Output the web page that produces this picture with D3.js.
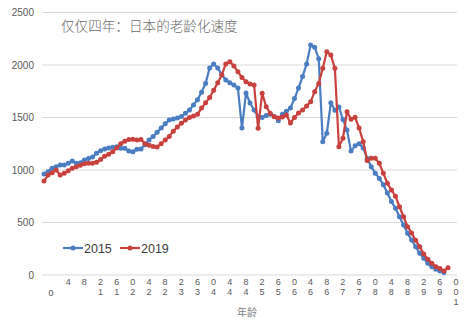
<!DOCTYPE html>
<html><head><meta charset="utf-8">
<script src="https://cdn.jsdelivr.net/npm/d3@7"></script>
<style>
html,body{margin:0;padding:0;background:#fff;}
svg{display:block;}
</style></head>
<body>
<svg id="chart" width="465" height="326"></svg>
<script>
const ages2015 = d3.range(0, 100);
const ages2019 = d3.range(0, 101);
const pop2015 = [962,984,1016,1031,1048,1048,1064,1086,1064,1070,
  1095,1110,1125,1159,1184,1200,1210,1216,1222,1206,
  1206,1180,1175,1197,1200,1240,1286,1320,1360,1400,
  1440,1476,1485,1495,1510,1540,1571,1620,1670,1740,
  1825,1971,2010,1971,1910,1857,1830,1810,1780,1400,
  1733,1638,1571,1510,1500,1520,1530,1510,1470,1530,
  1560,1590,1680,1780,1890,2010,2190,2170,2060,1270,
  1350,1640,1570,1600,1480,1380,1180,1230,1250,1210,
  1110,1030,970,920,860,780,700,635,555,476,
  397,333,270,206,159,111,79,54,38,25];
const pop2019 = [895,952,975,1000,952,968,994,1016,1030,1045,
  1060,1064,1064,1075,1100,1130,1150,1175,1210,1250,
  1275,1290,1292,1285,1290,1250,1235,1225,1220,1250,
  1286,1320,1370,1410,1445,1476,1500,1515,1530,1590,
  1640,1690,1760,1830,1905,2010,2032,1990,1936,1880,
  1841,1820,1810,1397,1730,1603,1540,1508,1495,1505,
  1524,1448,1500,1543,1571,1610,1651,1746,1825,1968,
  2127,2095,1968,1222,1302,1555,1483,1502,1400,1270,
  1090,1111,1111,1064,968,873,810,750,650,555,
  460,400,330,270,200,150,111,79,63,38,70];
const yTicks = [0,500,1000,1500,2000,2500];
const xTickAges = d3.range(0, 101, 4);
const seriesNames = ["2015","2019"];
const colors = ["#4a7dc1","#c9413e"];
const titleText = "仅仅四年：日本的老龄化速度";
const xAxisTitle = "年龄";

const svg = d3.select("#chart");
const x = d3.scaleLinear().domain([0,100]).range([44,448]);
const y = d3.scaleLinear().domain([0,2500]).range([275,12.5]);

// gridlines
svg.append("g").selectAll("line").data(yTicks).join("line")
  .attr("x1",42).attr("x2",457)
  .attr("y1",d=>y(d)).attr("y2",d=>y(d))
  .attr("stroke","#d9d9d9").attr("stroke-width",1);

// y labels
svg.append("g").selectAll("text").data(yTicks).join("text")
  .attr("x",34).attr("y",d=>y(d)+3.5)
  .attr("text-anchor","end")
  .attr("font-family","Liberation Sans, Arial, sans-serif")
  .attr("font-size",10).attr("fill","#595959")
  .text(d=>d);

// x labels: stacked chars, reversed, one text element per label
const xl = svg.append("g").attr("font-family","Liberation Sans, Arial, sans-serif")
  .attr("font-size",9).attr("fill","#595959").attr("text-anchor","middle");
xTickAges.forEach(a=>{
  const cx = x(a)+8;
  if (a===0){
    xl.append("text").attr("x",cx-1).attr("y",296).text("0");
    return;
  }
  const chars = String(a).split("").reverse();
  const t = xl.append("text").attr("x",cx).attr("y",285);
  chars.forEach((c,i)=>{
    t.append("tspan").attr("x",cx).attr("y",285+i*10).text(c);
  });
});

// x axis title
svg.append("text").attr("x",247).attr("y",316).attr("text-anchor","middle")
  .attr("font-family","Noto Sans CJK SC, sans-serif").attr("font-size",10)
  .attr("fill","#7f7f7f").text(xAxisTitle);

// title
svg.append("text").attr("x",61).attr("y",31)
  .attr("font-family","Noto Sans CJK SC, sans-serif").attr("font-weight",300)
  .attr("font-size",13.6).attr("fill","#6b6b6b").text(titleText);

const line = d3.line().x(d=>x(d[0])).y(d=>y(d[1]));
const seriesData = [
  d3.zip(ages2015, pop2015),
  d3.zip(ages2019, pop2019)
];
seriesData.forEach((data,i)=>{
  const g = svg.append("g");
  g.append("path").datum(data).attr("d",line)
    .attr("fill","none").attr("stroke",colors[i]).attr("stroke-width",2.2)
    .attr("stroke-linejoin","round");
  g.selectAll("circle").data(data).join("circle")
    .attr("cx",d=>x(d[0])).attr("cy",d=>y(d[1])).attr("r",2.5)
    .attr("fill",colors[i]);
});

// legend
const legX = [63,120];
seriesNames.forEach((n,i)=>{
  const g = svg.append("g");
  g.append("line").attr("x1",legX[i]).attr("x2",legX[i]+20)
    .attr("y1",248).attr("y2",248).attr("stroke",colors[i]).attr("stroke-width",2.2);
  g.append("circle").attr("cx",legX[i]+10).attr("cy",248).attr("r",2.5).attr("fill",colors[i]);
  g.append("text").attr("x",legX[i]+21).attr("y",252.5)
    .attr("font-family","Liberation Sans, Arial, sans-serif").attr("font-size",12.5)
    .attr("fill","#404040").text(n);
});
</script>
</body></html>
